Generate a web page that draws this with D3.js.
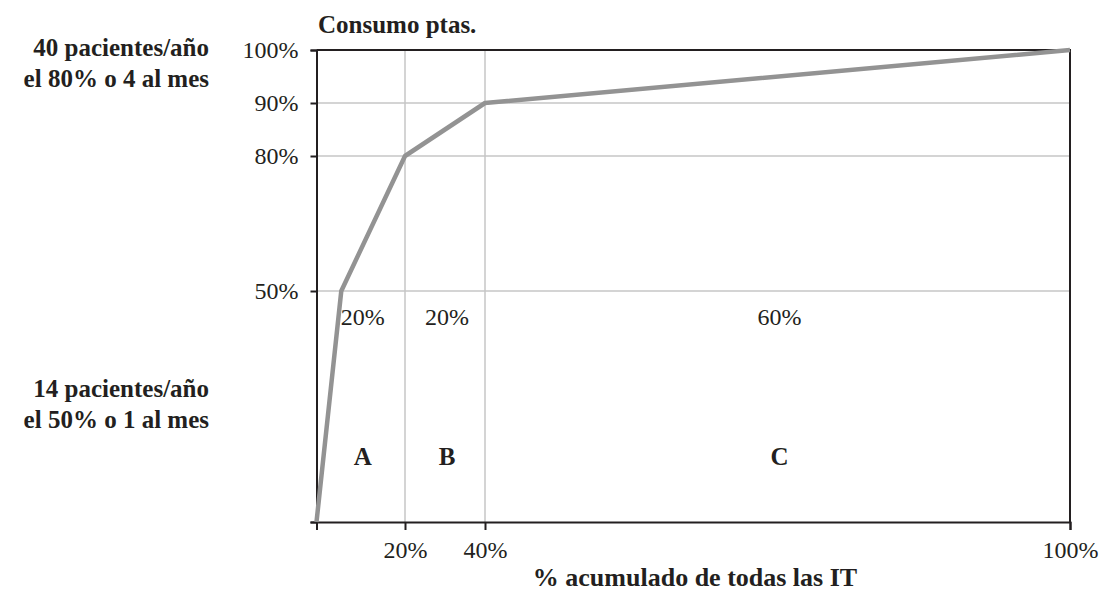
<!DOCTYPE html>
<html>
<head>
<meta charset="utf-8">
<script src="https://cdn.jsdelivr.net/npm/d3@7"></script>
<style>
  body { margin: 0; background: #fff; }
  svg text { font-family: "Liberation Serif", "Times New Roman", serif; fill: #231f20; }
  .tick line { stroke: #231f20; stroke-width: 2; }
  .domain { stroke: #231f20; stroke-width: 2; }
</style>
</head>
<body>
<div id="plot"></div>
<script>
// cumulative share of IT (x) vs cumulative consumption (y)
var xValues = [0, 5.6, 20, 40, 100];
var yValues = [0, 50, 80, 90, 100];

var xTicks = [0, 20, 40, 100];
var yTicks = [0, 50, 80, 90, 100];

var zones = ["A", "B", "C"];
var zoneShares = ["20%", "20%", "60%"];
var zoneMid = [10, 30, 70];

var width = 1109, height = 598;

var svg = d3.select("#plot").append("svg")
    .attr("width", width)
    .attr("height", height);

// the original is a sketch, the axes are not to scale -> piecewise scales
var x = d3.scaleLinear().domain([0, 20, 40, 100]).range([316.5, 405, 485, 1070]);
var y = d3.scaleLinear().domain([0, 50, 80, 90, 100]).range([522, 291, 156, 103, 50]);

// grid
svg.append("g").selectAll("line")
    .data([50, 80, 90])
    .enter().append("line")
    .attr("x1", x(0)).attr("x2", x(100))
    .attr("y1", d => y(d)).attr("y2", d => y(d))
    .style("stroke", "#c6c6c6").style("stroke-width", 1.5);

svg.append("g").selectAll("line")
    .data([20, 40])
    .enter().append("line")
    .attr("x1", d => x(d)).attr("x2", d => x(d))
    .attr("y1", y(0)).attr("y2", y(100))
    .style("stroke", "#c6c6c6").style("stroke-width", 1.5);

// top and right frame
svg.append("path")
    .attr("d", "M" + x(0) + "," + y(100) + "H" + x(100) + "V" + y(0))
    .style("fill", "none").style("stroke", "#231f20").style("stroke-width", 2);

var yAxis = svg.append("g")
    .attr("transform", "translate(" + x(0) + ",0)")
    .call(d3.axisLeft(y).tickValues(yTicks).tickSize(6).tickPadding(12)
        .tickFormat(d => d === 0 ? "" : d + "%"));
yAxis.selectAll("text").style("font-size", "24px").attr("dy", "0.33em");

var xAxis = svg.append("g")
    .attr("transform", "translate(0," + y(0) + ")")
    .call(d3.axisBottom(x).tickValues(xTicks).tickSize(8).tickPadding(11)
        .tickFormat(d => d === 0 ? "" : d + "%"));
xAxis.selectAll("text").style("font-size", "24px");
svg.selectAll(".domain").style("stroke", "#231f20").style("stroke-width", 2);

// zone labels
svg.append("g").selectAll("text")
    .data(zoneShares)
    .enter().append("text")
    .attr("x", (d, i) => x(zoneMid[i]) + 2)
    .attr("y", 325)
    .attr("text-anchor", "middle")
    .style("font-size", "24px")
    .text(d => d);

svg.append("g").selectAll("text")
    .data(zones)
    .enter().append("text")
    .attr("x", (d, i) => x(zoneMid[i]) + 2)
    .attr("y", 465)
    .attr("text-anchor", "middle")
    .style("font-size", "25px")
    .style("font-weight", "bold")
    .text(d => d);

// the curve
var line = d3.line()
    .x((d, i) => x(xValues[i]))
    .y((d, i) => y(d));

svg.append("path")
    .datum(yValues)
    .attr("d", line)
    .style("fill", "none")
    .style("stroke", "#939393")
    .style("stroke-width", 4.5)
    .style("stroke-linejoin", "round");

// titles
svg.append("text")
    .attr("x", 318).attr("y", 33)
    .style("font-size", "25px").style("font-weight", "bold")
    .text("Consumo ptas.");

svg.append("text")
    .attr("x", 695).attr("y", 586)
    .attr("text-anchor", "middle")
    .style("font-size", "26px").style("font-weight", "bold")
    .text("% acumulado de todas las IT");

// side notes
var notes = [
    { lines: ["40 pacientes/año", "el 80% o 4 al mes"], y: 56 },
    { lines: ["14 pacientes/año", "el 50% o 1 al mes"], y: 397 }
];
notes.forEach(function(n) {
    n.lines.forEach(function(t, i) {
        svg.append("text")
            .attr("x", 209).attr("y", n.y + i * 31)
            .attr("text-anchor", "end")
            .style("font-size", "25px").style("font-weight", "bold")
            .text(t);
    });
});
</script>
</body>
</html>
